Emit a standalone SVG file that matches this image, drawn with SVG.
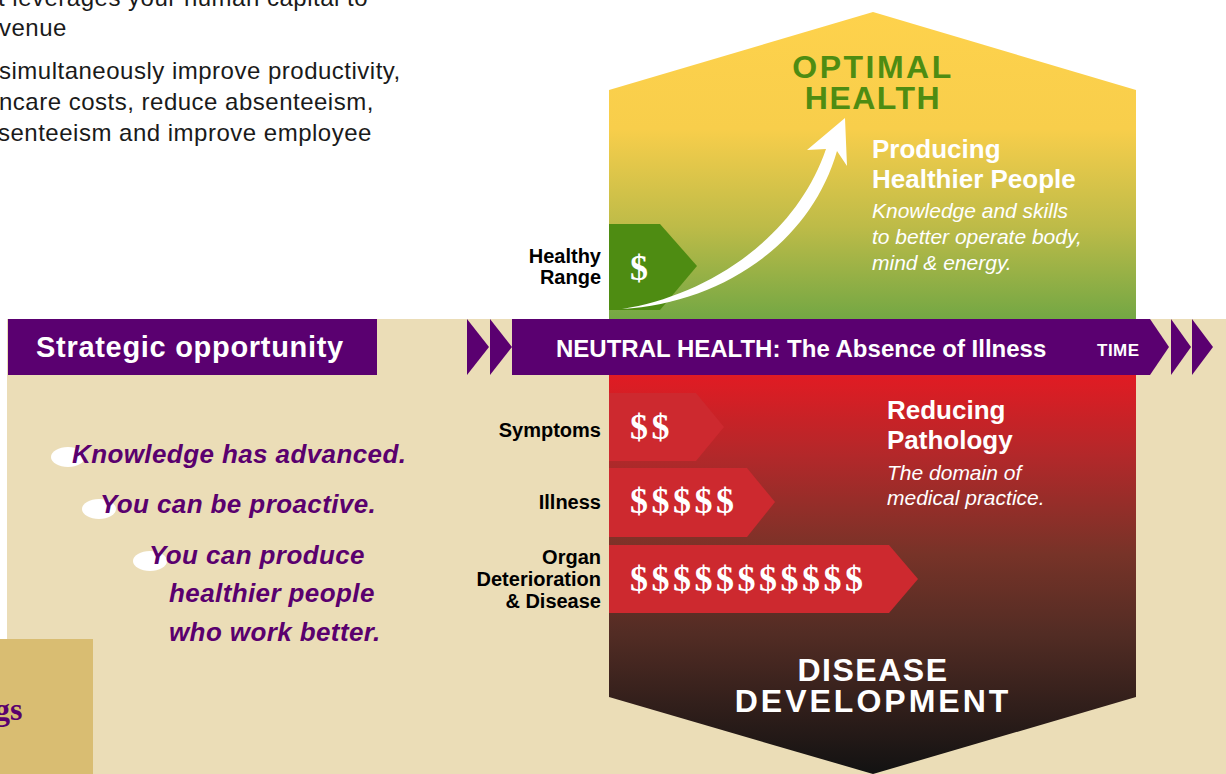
<svg xmlns="http://www.w3.org/2000/svg" width="1226" height="774" viewBox="0 0 1226 774">
<defs>
<linearGradient id="gTop" x1="0" y1="12" x2="0" y2="319" gradientUnits="userSpaceOnUse">
<stop offset="0" stop-color="#FED24C"/>
<stop offset="0.38" stop-color="#F8CE4B"/>
<stop offset="0.7" stop-color="#BDBB48"/>
<stop offset="1" stop-color="#73A744"/>
</linearGradient>
<linearGradient id="gBot" x1="0" y1="375" x2="0" y2="774" gradientUnits="userSpaceOnUse">
<stop offset="0" stop-color="#E11B23"/>
<stop offset="0.2" stop-color="#B3282A"/>
<stop offset="0.45" stop-color="#773328"/>
<stop offset="0.65" stop-color="#522C24"/>
<stop offset="1" stop-color="#121212"/>
</linearGradient>
<style>
.sans{font-family:"Liberation Sans",Arial,sans-serif}
.lbl{font-family:"Liberation Sans",Arial,sans-serif;font-weight:bold;font-size:20px;fill:#000;text-anchor:end}
.body{font-family:"Liberation Sans",Arial,sans-serif;font-size:24px;fill:#1a1a1a;letter-spacing:0.5px}
.dollar{font-family:"Liberation Serif","Times New Roman",serif;font-weight:bold;font-size:36px;fill:#fff;letter-spacing:3.5px}
.pur{font-family:"Liberation Sans",Arial,sans-serif;font-weight:bold;font-style:italic;font-size:26px;fill:#5A006E;letter-spacing:0.4px}
.head{font-family:"Liberation Sans",Arial,sans-serif;font-weight:bold;font-size:26px;fill:#fff}
.ital{font-family:"Liberation Sans",Arial,sans-serif;font-style:italic;font-size:21px;fill:#fff}
.big{font-family:"Liberation Sans",Arial,sans-serif;font-weight:bold;font-size:32px;text-anchor:middle}
.redtab{fill:#CD292F}
.tri{fill:#5A0070}
</style>
</defs>

<g id="background">
<rect x="0" y="0" width="1226" height="774" fill="#fff"/>
<rect x="7" y="319" width="1219" height="455" fill="#EBDDB7"/>
<rect x="0" y="639" width="93" height="135" fill="#D9BD72"/>
</g>

<g id="intro-text">
<text class="body" x="-2" y="6">t leverages your human capital to</text>
<text class="body" x="-1" y="36">venue</text>
<text class="body" x="-1" y="79">simultaneously improve productivity,</text>
<text class="body" x="-1" y="110">ncare costs, reduce absenteeism,</text>
<text class="body" x="-2" y="141">senteeism and improve employee</text>
</g>

<g id="optimal-health">
<polygon points="609,90 873,12 1136,90 1136,319 609,319" fill="url(#gTop)"/>
<text class="big" x="873" y="78" fill="#4E8C12" letter-spacing="2.5">OPTIMAL</text>
<text class="big" x="873" y="109" fill="#4E8C12" letter-spacing="1.5">HEALTH</text>
<text class="head" x="872" y="158">Producing</text>
<text class="head" x="872" y="188">Healthier People</text>
<text class="ital" x="872" y="218">Knowledge and skills</text>
<text class="ital" x="872" y="244">to better operate body,</text>
<text class="ital" x="872" y="270">mind &amp; energy.</text>
</g>

<g id="disease-development">
<polygon points="609,375 1136,375 1136,697 873,774 609,697" fill="url(#gBot)"/>
<text class="big" x="873" y="681" fill="#fff" letter-spacing="1.5">DISEASE</text>
<text class="big" x="873" y="712" fill="#fff" letter-spacing="3">DEVELOPMENT</text>
<text class="head" x="887" y="419">Reducing</text>
<text class="head" x="887" y="449">Pathology</text>
<text class="ital" x="887" y="480">The domain of</text>
<text class="ital" x="887" y="505">medical practice.</text>
</g>

<g id="strategic-opportunity">
<rect x="8" y="319" width="369" height="56" fill="#5A0070"/>
<text class="sans" x="36" y="357" font-weight="bold" font-size="29" fill="#fff" letter-spacing="0.7">Strategic opportunity</text>
</g>

<g id="neutral-health">
<polygon class="tri" points="467,319 489,347 467,375"/>
<polygon class="tri" points="490,319 512,347 490,375"/>
<polygon class="tri" points="512,319 1150,319 1169,347 1150,375 512,375"/>
<polygon class="tri" points="1171,319 1191,347 1171,375"/>
<polygon class="tri" points="1192,319 1213,347 1192,375"/>
<text class="sans" x="556" y="357" font-weight="bold" font-size="24" fill="#fff">NEUTRAL HEALTH: The Absence of Illness</text>
<text class="sans" x="1097" y="356" font-weight="bold" font-size="17" fill="#fff" letter-spacing="0.5">TIME</text>
</g>

<g id="healthy-range">
<polygon points="609,224 660,224 697,266 660,310 609,310" fill="#4E8C12"/>
<text class="dollar" x="630" y="280">$</text>
<text class="lbl" x="601" y="263">Healthy</text>
<text class="lbl" x="601" y="284">Range</text>
</g>

<g id="symptoms">
<polygon class="redtab" points="609,393 696,393 724,427 696,461 609,461"/>
<text class="dollar" x="630" y="439">$$</text>
<text class="lbl" x="601" y="437">Symptoms</text>
</g>

<g id="illness">
<polygon class="redtab" points="609,468 747,468 775,502 747,537 609,537"/>
<text class="dollar" x="630" y="513">$$$$$</text>
<text class="lbl" x="601" y="509">Illness</text>
</g>

<g id="organ">
<polygon class="redtab" points="609,545 889,545 918,579 889,613 609,613"/>
<text class="dollar" x="630" y="591">$$$$$$$$$$$</text>
<text class="lbl" x="601" y="564">Organ</text>
<text class="lbl" x="601" y="586">Deterioration</text>
<text class="lbl" x="601" y="608">&amp; Disease</text>
</g>

<g id="connectors">
<path d="M 622 309 C 705 296 795 240 826 149 L 807 150 L 845 118 L 847 166 L 837 151 C 810 245 720 303 622 309 Z" fill="#fff"/>
</g>

<g id="messages">
<ellipse cx="68" cy="457" rx="17" ry="10" fill="#fff"/>
<ellipse cx="99" cy="509" rx="17" ry="10" fill="#fff"/>
<ellipse cx="150" cy="561" rx="17" ry="10" fill="#fff"/>
<text class="pur" x="72" y="463">Knowledge has advanced.</text>
<text class="pur" x="100" y="513">You can be proactive.</text>
<text class="pur" x="149" y="564">You can produce</text>
<text class="pur" x="169" y="602">healthier people</text>
<text class="pur" x="169" y="641">who work better.</text>
</g>

<g id="sidebar">
<text x="-6" y="720" font-family="Liberation Serif,'Times New Roman',serif" font-weight="bold" font-size="32" fill="#5A006E">gs</text>
<text x="-3" y="786" font-family="Liberation Serif,'Times New Roman',serif" font-size="24" fill="#5A006E">com</text>
</g>
</svg>
